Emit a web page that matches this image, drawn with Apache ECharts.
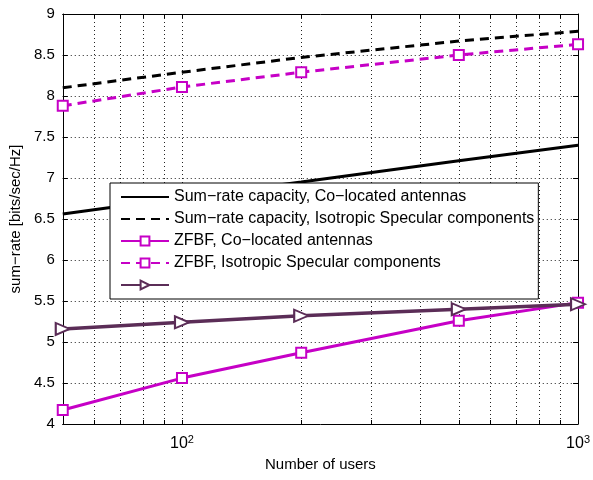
<!DOCTYPE html>
<html>
<head>
<meta charset="utf-8">
<script src="https://cdn.jsdelivr.net/npm/echarts@6/dist/echarts.min.js"></script>
<style>
html, body { margin: 0; background: #fff; }
#chart { width: 593px; height: 480px; }
</style>
</head>
<body>
<div id="chart"></div>
<script>
// values (x = number of users, log scale)
const users = [50, 100, 200, 500, 1000]
const capColocated = [6.56, 6.76, 6.95, 7.21, 7.40]
const capIsotropic = [8.10, 8.29, 8.47, 8.67, 8.79]
const zfbfColocated = [4.17, 4.56, 4.87, 5.26, 5.48]
const zfbfIsotropic = [7.88, 8.11, 8.29, 8.50, 8.63]
const thirdCurve = [5.16, 5.24, 5.32, 5.40, 5.46]
const xTickValues = [60, 70, 80, 90, 100, 200, 300, 400, 500, 600, 700, 800, 900, 1000]
const xLabelValues = [100, 1000]
const seriesNames = [
  'Sum\u2212rate capacity, Co\u2212located antennas',
  'Sum\u2212rate capacity, Isotropic Specular components',
  'ZFBF, Co\u2212located antennas',
  'ZFBF, Isotropic Specular components',
  ' '
]

const FONT = 'Liberation Sans'
const MAGENTA = '#c600c6'
const PURPLE = '#5b2d57'

const pairs = vals => users.map((u, i) => [u, vals[i]])

const chart = echarts.init(document.getElementById('chart'))

const dotted = { color: '#222', width: 1, type: [1, 3] }

const option = {
  animation: false,
  backgroundColor: '#fff',
  textStyle: { fontFamily: FONT },
  grid: { left: 61, right: 11, top: 14, bottom: 56 },
  legend: {
    orient: 'vertical',
    left: 110,
    top: 183,
    itemWidth: 48,
    itemHeight: 11,
    itemGap: 6,
    padding: [6, 4, 6, 10],
    backgroundColor: '#fff',
    borderColor: '#000',
    borderWidth: 1,
    borderRadius: 0,
    textStyle: { fontFamily: FONT, fontSize: 16, color: '#000' },
    data: [
      { name: seriesNames[0], itemStyle: { opacity: 0 } },
      { name: seriesNames[1], itemStyle: { opacity: 0 } },
      seriesNames[2],
      seriesNames[3],
      seriesNames[4]
    ]
  },
  xAxis: [
    {
      type: 'log',
      logBase: 10,
      min: 50,
      max: 1000,
      name: 'Number of users',
      nameLocation: 'middle',
      nameGap: 31,
      nameTextStyle: { fontSize: 15, color: '#000', fontFamily: FONT },
      axisLine: { show: true, lineStyle: { color: '#000', width: 1 } },
      axisTick: { show: true, inside: true, length: 4, customValues: xTickValues, lineStyle: { color: '#000' } },
      axisLabel: {
        customValues: xLabelValues,
        color: '#000',
        margin: 10,
        formatter: v => '10{sup|' + Math.round(Math.log10(v)) + '}',
        rich: { sup: { fontSize: 11, verticalAlign: 'top', padding: [0, 0, 9, 0], color: '#000', fontFamily: FONT } },
        fontSize: 16,
        fontFamily: FONT
      },
      splitLine: { show: true, lineStyle: dotted }
    },
    {
      type: 'log',
      logBase: 10,
      min: 50,
      max: 1000,
      position: 'top',
      axisLine: { show: true, lineStyle: { color: '#000', width: 1 } },
      axisTick: { show: true, inside: true, length: 4, customValues: xTickValues, lineStyle: { color: '#000' } },
      axisLabel: { show: false },
      splitLine: { show: false }
    }
  ],
  yAxis: [
    {
      type: 'value',
      min: 4,
      max: 9,
      interval: 0.5,
      name: 'sum\u2212rate [bits/sec/Hz]',
      nameLocation: 'middle',
      nameGap: 36,
      nameTextStyle: { fontSize: 15, color: '#000', fontFamily: FONT },
      axisLine: { show: true, lineStyle: { color: '#000', width: 1 } },
      axisTick: { show: true, inside: true, length: 5, lineStyle: { color: '#000' } },
      axisLabel: { color: '#000', fontSize: 15, fontFamily: FONT, margin: 8 },
      splitLine: { show: true, lineStyle: dotted }
    },
    {
      type: 'value',
      min: 4,
      max: 9,
      interval: 0.5,
      position: 'right',
      axisLine: { show: true, lineStyle: { color: '#000', width: 1 } },
      axisTick: { show: true, inside: true, length: 5, lineStyle: { color: '#000' } },
      axisLabel: { show: false },
      splitLine: { show: false }
    }
  ],
  series: [
    {
      name: seriesNames[0],
      type: 'line',
      data: pairs(capColocated),
      symbol: 'none',
      lineStyle: { color: '#000', width: 3 },
      itemStyle: { color: '#000' },
      z: 3
    },
    {
      name: seriesNames[1],
      type: 'line',
      data: pairs(capIsotropic),
      symbol: 'none',
      lineStyle: { color: '#000', width: 3, type: [9, 6] },
      itemStyle: { color: '#000' },
      z: 3
    },
    {
      name: seriesNames[2],
      type: 'line',
      data: pairs(zfbfColocated),
      symbol: 'emptyRect',
      symbolSize: 10,
      lineStyle: { color: MAGENTA, width: 3 },
      itemStyle: { color: MAGENTA, borderColor: MAGENTA, borderWidth: 2 },
      z: 4
    },
    {
      name: seriesNames[3],
      type: 'line',
      data: pairs(zfbfIsotropic),
      symbol: 'emptyRect',
      symbolSize: 10,
      lineStyle: { color: MAGENTA, width: 3, type: [9, 6] },
      itemStyle: { color: MAGENTA, borderColor: MAGENTA, borderWidth: 2 },
      z: 4
    },
    {
      name: seriesNames[4],
      type: 'line',
      data: pairs(thirdCurve),
      symbol: 'emptyTriangle',
      symbolRotate: -90,
      symbolSize: [12, 14],
      lineStyle: { color: PURPLE, width: 3.5 },
      itemStyle: { color: PURPLE, borderColor: PURPLE, borderWidth: 2 },
      z: 4
    }
  ]
}

chart.setOption(option)
</script>
</body>
</html>
